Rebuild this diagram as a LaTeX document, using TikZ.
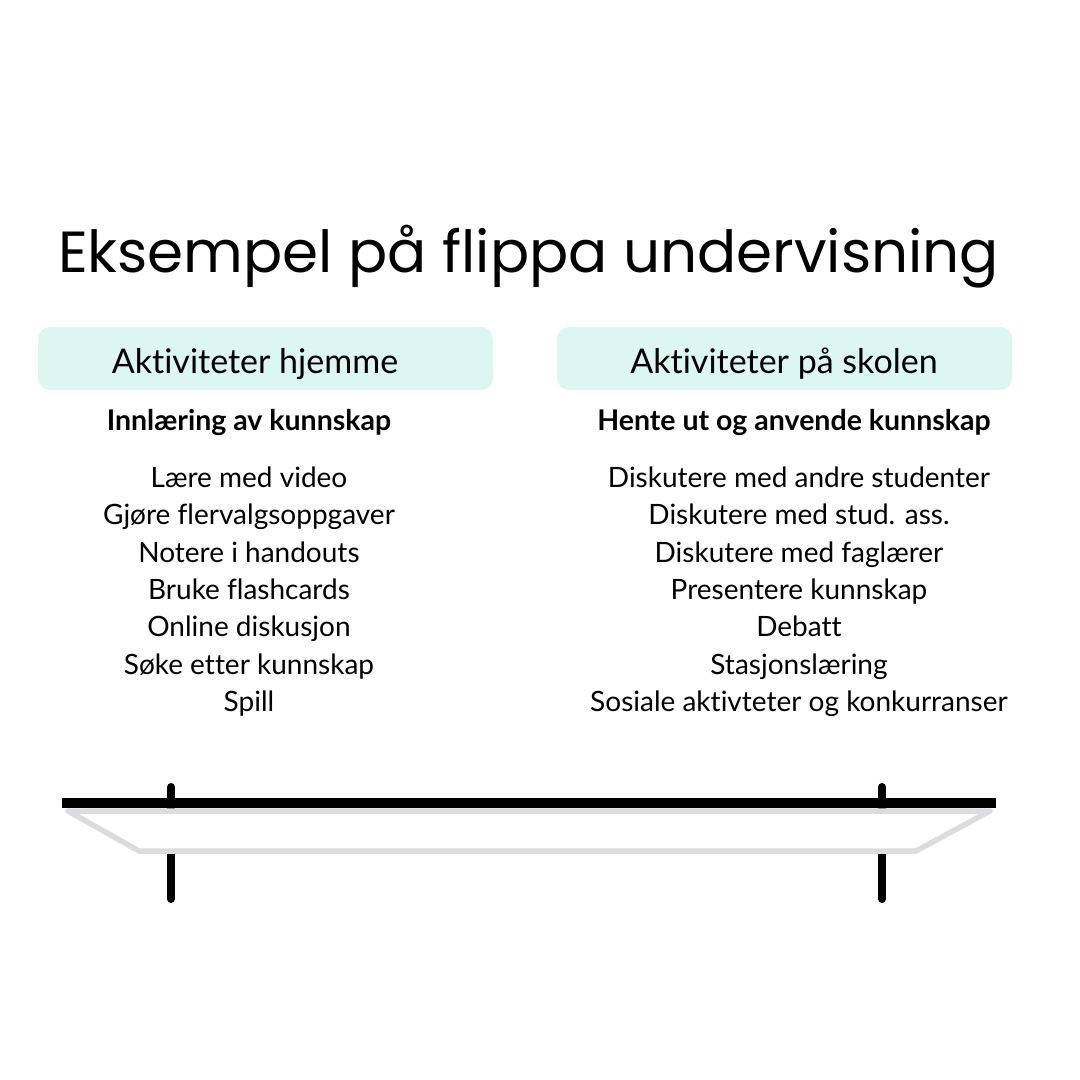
\documentclass[tikz,border=0pt]{standalone}
\usepackage{fontspec}
\setmainfont{Lato}[Ligatures=NoCommon]
\newfontfamily\titlefont{Poppins}
\usetikzlibrary{matrix}
\definecolor{mint}{HTML}{DCF6F2}
\definecolor{shelfgrey}{HTML}{DCDBE1}

\tikzset{
  headbox/.style={fill=mint, rounded corners=12pt, minimum width=455pt, minimum height=63pt, inner sep=0pt},
  headtext/.style={anchor=base, inner sep=0pt, font=\fontsize{34}{40}\selectfont},
  subhead/.style={anchor=base, inner sep=0pt, font=\bfseries\fontsize{28.5}{34}\selectfont},
  itemlist/.style={matrix of nodes, anchor=north, inner sep=0pt, row sep=0pt,
    nodes={inner sep=0pt, text height=27pt, text depth=10.4pt, font=\fontsize{28}{32}\selectfont}},
  post/.style={line width=8pt, line cap=round}
}

\begin{document}
\begin{tikzpicture}[x=1pt,y=-1pt]
  \useasboundingbox (0,0) rectangle (1080,1080);

  \node [anchor=base, inner sep=0pt] (title) at (528.5,272)
    {\titlefont\fontsize{58}{70}\selectfont Eksempel på flippa undervisning};

  % header boxes
  \node [headbox] (homebox) at (265.5,358.5) {};
  \node [headbox] (schoolbox) at (784.5,358.5) {};
  \node [headtext] (homehead) at (255,373) {Aktiviteter hjemme};
  \node [headtext] (schoolhead) at (784,373) {Aktiviteter på skolen};

  \node [subhead] (homesub) at (249,430) {Innlæring av kunnskap};
  \node [subhead] (schoolsub) at (794,430) {Hente ut og anvende kunnskap};

  \matrix (homelist) [itemlist] at (249,460)
  {
     Lære med video \\
     Gjøre flervalgsoppgaver \\
     Notere i handouts \\
     Bruke flashcards \\
     Online diskusjon \\
     Søke etter kunnskap \\
     Spill \\};
  \matrix (schoollist) [itemlist] at (799,460)
  {
     Diskutere med andre studenter \\
     Diskutere med stud. ass. \\
     Diskutere med faglærer \\
     Presentere kunnskap \\
     Debatt \\
     Stasjonslæring \\
     Sosiale aktivteter og konkurranser \\};

  % shelf
  \coordinate (lefttop) at (171,787);
  \coordinate (leftfoot) at (171,899);
  \coordinate (righttop) at (882,787);
  \coordinate (rightfoot) at (882,899);
  \draw [post] (lefttop) -- (leftfoot);
  \draw [post] (righttop) -- (rightfoot);
  \draw [shelfgrey, line width=5.5pt, line join=round, fill=white] (68,811) -- (990,811) -- (916,851) -- (139,851) -- cycle;
  \draw [line width=10pt] (62,803) -- (996,803);
\end{tikzpicture}
\end{document}
